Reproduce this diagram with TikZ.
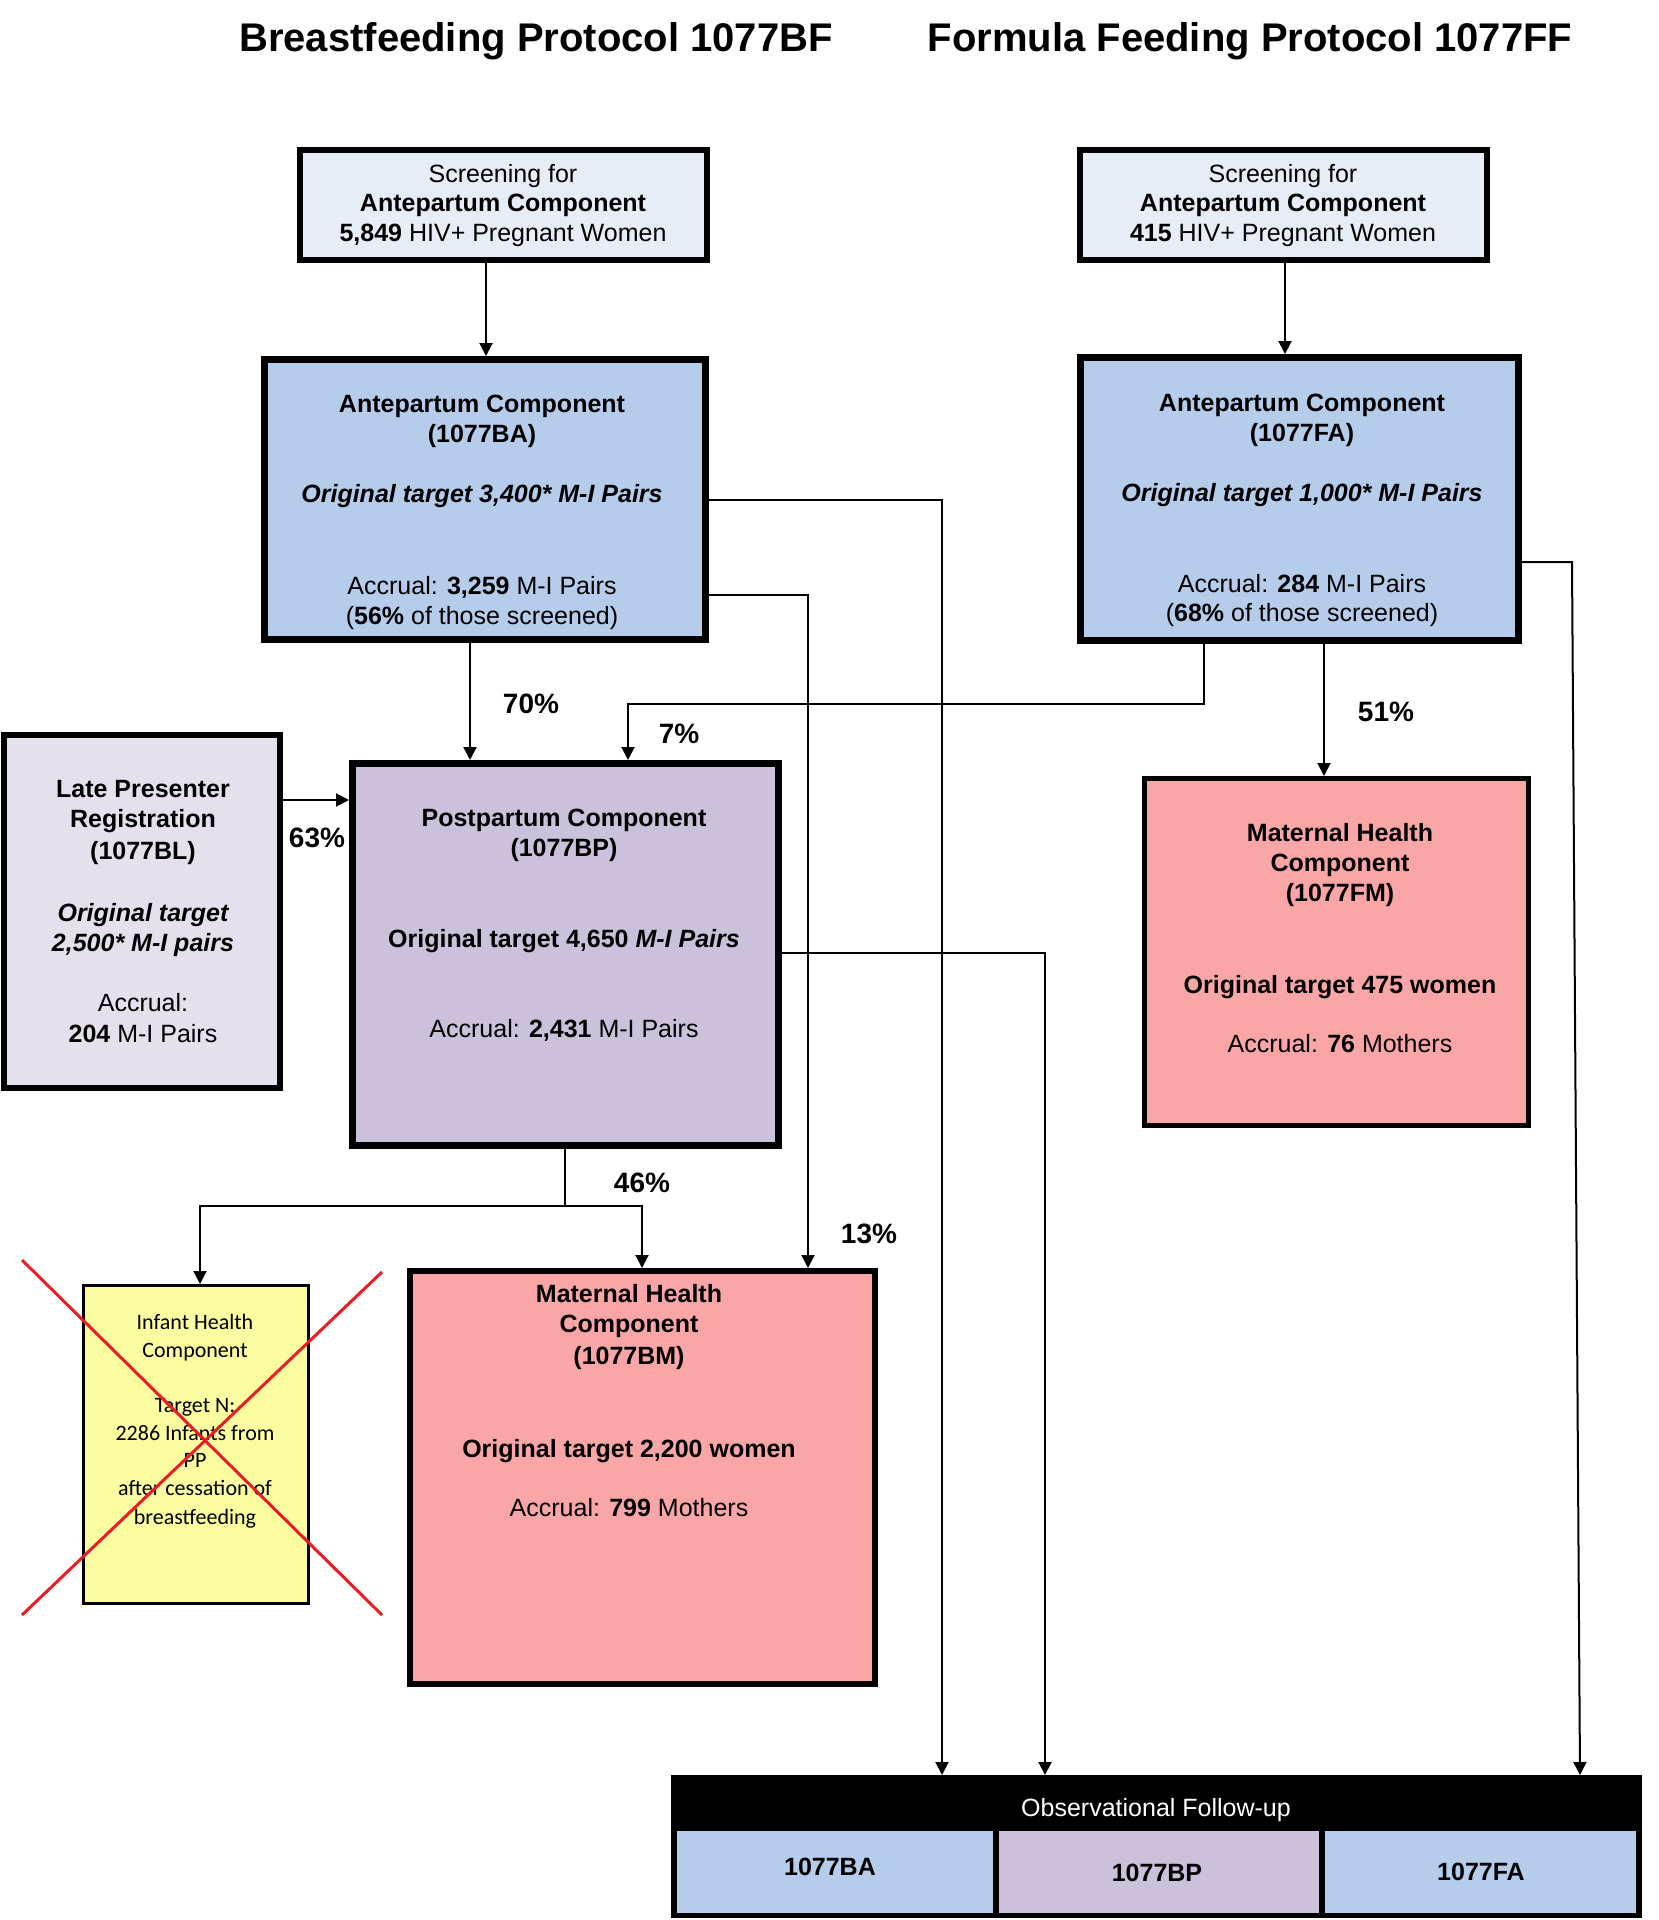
\documentclass[tikz,border=0pt]{standalone}
\usepackage{fontspec}
\setmainfont{Liberation Sans}
\newfontfamily\calib{Carlito}
\usetikzlibrary{arrows.meta}
\definecolor{scrfill}{RGB}{230,237,247}
\definecolor{antefill}{RGB}{181,204,235}
\definecolor{latefill}{RGB}{230,224,236}
\definecolor{postfill}{RGB}{204,193,218}
\definecolor{matfill}{RGB}{250,166,166}
\definecolor{infill}{RGB}{252,252,160}
\definecolor{xred}{RGB}{232,30,38}
\begin{document}
\begin{tikzpicture}[x=1pt,y=-1pt,
  box/.style={draw=black, rectangle, inner sep=0pt},
  tx/.style={anchor=base, inner sep=0pt, font=\fontsize{25}{30}\selectfont},
  txb/.style={tx, font=\fontsize{25}{30}\selectfont\bfseries},
  txbi/.style={tx, font=\fontsize{25}{30}\selectfont\bfseries\itshape},
  pct/.style={anchor=base, inner sep=0pt, font=\fontsize{28}{32}\selectfont\bfseries},
  ttl/.style={anchor=base, inner sep=0pt, font=\fontsize{40}{46}\selectfont\bfseries},
  inf/.style={anchor=base, inner sep=0pt, font=\calib\fontsize{22}{26}\selectfont},
  conn/.style={line width=2pt},
  arr/.style={conn, -{Triangle[width=13pt,length=13pt]}}]
\useasboundingbox (0,0) rectangle (1658,1920);

% titles
\node[ttl] (ttlBF) at (536,51) {Breastfeeding Protocol 1077BF};
\node[ttl] (ttlFF) at (1250,51) {Formula Feeding Protocol 1077FF};

% boxes
\node[box, fill=scrfill, line width=6pt, minimum width=407pt, minimum height=110pt] (scrBF) at (503.5,205) {};
\node[box, fill=scrfill, line width=6pt, minimum width=407pt, minimum height=110pt] (scrFF) at (1283.5,205) {};
\node[box, fill=antefill, line width=7pt, minimum width=441pt, minimum height=280pt] (ba) at (485,499.5) {};
\node[box, fill=antefill, line width=7pt, minimum width=438pt, minimum height=283pt] (fa) at (1299.5,499) {};
\node[box, fill=latefill, line width=6pt, minimum width=276pt, minimum height=353pt] (lp) at (142,911.5) {};
\node[box, fill=postfill, line width=7pt, minimum width=426pt, minimum height=382pt] (pp) at (565.5,954.5) {};
\node[box, fill=matfill, line width=5pt, minimum width=384pt, minimum height=347pt] (fm) at (1336.5,952) {};
\node[box, fill=infill, line width=3pt, minimum width=225pt, minimum height=318pt] (ih) at (196,1444.5) {};
\node[box, fill=matfill, line width=6pt, minimum width=465pt, minimum height=413pt] (bm) at (642.5,1477.5) {};
\node[rectangle, fill=black, inner sep=0pt, outer sep=0pt, minimum width=971pt, minimum height=143pt] (obs) at (1156.5,1846.5) {};
\node[rectangle, fill=antefill, inner sep=0pt, outer sep=0pt, minimum width=316pt, minimum height=82pt] (cBA) at (835,1872) {};
\node[rectangle, fill=postfill, inner sep=0pt, outer sep=0pt, minimum width=320pt, minimum height=82pt] (cBP) at (1159,1872) {};
\node[rectangle, fill=antefill, inner sep=0pt, outer sep=0pt, minimum width=311pt, minimum height=82pt] (cFA) at (1480.5,1872) {};

% texts: screening
\node[tx] (sb1) at (503,182) {Screening for};
\node[txb] (sb2) at (503,211) {Antepartum Component};
\node[tx] (sb3) at (503,241) {\textbf{5,849} HIV+ Pregnant Women};
\node[tx] (sf1) at (1283,182) {Screening for};
\node[txb] (sf2) at (1283,211) {Antepartum Component};
\node[tx] (sf3) at (1283,241) {\textbf{415} HIV+ Pregnant Women};

% BA
\node[txb] (ba1) at (482,412) {Antepartum Component};
\node[txb] (ba2) at (482,442) {(1077BA)};
\node[txbi] (ba3) at (482,502) {Original target 3,400* M-I Pairs};
\node[tx] (ba4) at (482,594) {Accrual: \textbf{3,259} M-I Pairs};
\node[tx] (ba5) at (482,624) {(\textbf{56\%} of those screened)};

% FA
\node[txb] (fa1) at (1302,411) {Antepartum Component};
\node[txb] (fa2) at (1302,441) {(1077FA)};
\node[txbi] (fa3) at (1302,501) {Original target 1,000* M-I Pairs};
\node[tx] (fa4) at (1302,592) {Accrual: \textbf{284} M-I Pairs};
\node[tx] (fa5) at (1302,621) {(\textbf{68\%} of those screened)};

% LP
\node[txb] (lp1) at (143,797) {Late Presenter};
\node[txb] (lp2) at (143,827) {Registration};
\node[txb] (lp3) at (143,859) {(1077BL)};
\node[txbi] (lp4) at (143,921) {Original target};
\node[txbi] (lp5) at (143,951) {2,500* M-I pairs};
\node[tx] (lp6) at (143,1011) {Accrual:};
\node[tx] (lp7) at (143,1042) {\textbf{204} M-I Pairs};

% PP
\node[txb] (pp1) at (564,826) {Postpartum Component};
\node[txb] (pp2) at (564,856) {(1077BP)};
\node[txb] (pp3) at (564,947) {Original target 4,650 \textit{M-I Pairs}};
\node[tx] (pp4) at (564,1037) {Accrual: \textbf{2,431} M-I Pairs};

% FM
\node[txb] (fm1) at (1340,841) {Maternal Health};
\node[txb] (fm2) at (1340,871) {Component};
\node[txb] (fm3) at (1340,901) {(1077FM)};
\node[txb] (fm4) at (1340,993) {Original target 475 women};
\node[tx] (fm5) at (1340,1052) {Accrual: \textbf{76} Mothers};

% BM
\node[txb] (bm1) at (629,1302) {Maternal Health};
\node[txb] (bm2) at (629,1332) {Component};
\node[txb] (bm3) at (629,1364) {(1077BM)};
\node[txb] (bm4) at (629,1457) {Original target 2,200 women};
\node[tx] (bm5) at (629,1516) {Accrual: \textbf{799} Mothers};

% IH
\node[inf] (ih1) at (195,1329) {Infant Health};
\node[inf] (ih2) at (195,1357) {Component};
\node[inf] (ih3) at (195,1412) {Target N:};
\node[inf] (ih4) at (195,1440) {2286 Infants from};
\node[inf] (ih5) at (195,1467) {PP};
\node[inf] (ih6) at (195,1495) {after cessation of};
\node[inf] (ih7) at (195,1524) {breastfeeding};

% observational
\node[tx, text=white] (obsT) at (1156,1816) {Observational Follow-up};
\node[txb] (cBAt) at (830,1875) {1077BA};
\node[txb] (cBPt) at (1157,1881) {1077BP};
\node[txb] (cFAt) at (1481,1880) {1077FA};

% percentages
\node[pct] (p70) at (531,713) {70\%};
\node[pct] (p7) at (679,743) {7\%};
\node[pct] (p63) at (317,847) {63\%};
\node[pct] (p51) at (1386,721) {51\%};
\node[pct] (p46) at (642,1192) {46\%};
\node[pct] (p13) at (869,1243) {13\%};

% connectors
\draw[arr] (scrBF.south -| 486,0) -- (ba.north -| 486,0);
\draw[arr] (scrFF.south -| 1285,0) -- (fa.north -| 1285,0);
\draw[arr] (ba.east |- 0,500) -| (obs.north -| 942,0);
\draw[arr] (ba.east |- 0,595) -| (bm.north -| 808,0);
\draw[arr] (ba.south -| 470,0) -- (pp.north -| 470,0);
\draw[arr] (fa.south -| 1204,0) |- (628,704) -- (pp.north -| 628,0);
\draw[arr] (fa.south -| 1324,0) -- (fm.north -| 1324,0);
\draw[arr] (fa.east |- 0,562) -- (1572,562) -- (obs.north -| 1580,0);
\draw[arr] (lp.east |- 0,800) -- (pp.west |- 0,800);
\draw[arr] (pp.east |- 0,953) -| (obs.north -| 1045,0);
\coordinate (split) at (565,1206);
\draw[conn] (pp.south -| split) -- (split);
\draw[arr] (split) -| (ih.north -| 200,0);
\draw[arr] (split) -| (bm.north -| 642,0);

% red cross
\draw[xred, line width=3pt] (22,1260) -- (382,1615);
\draw[xred, line width=3pt] (22,1615) -- (382,1272);
\end{tikzpicture}
\end{document}
